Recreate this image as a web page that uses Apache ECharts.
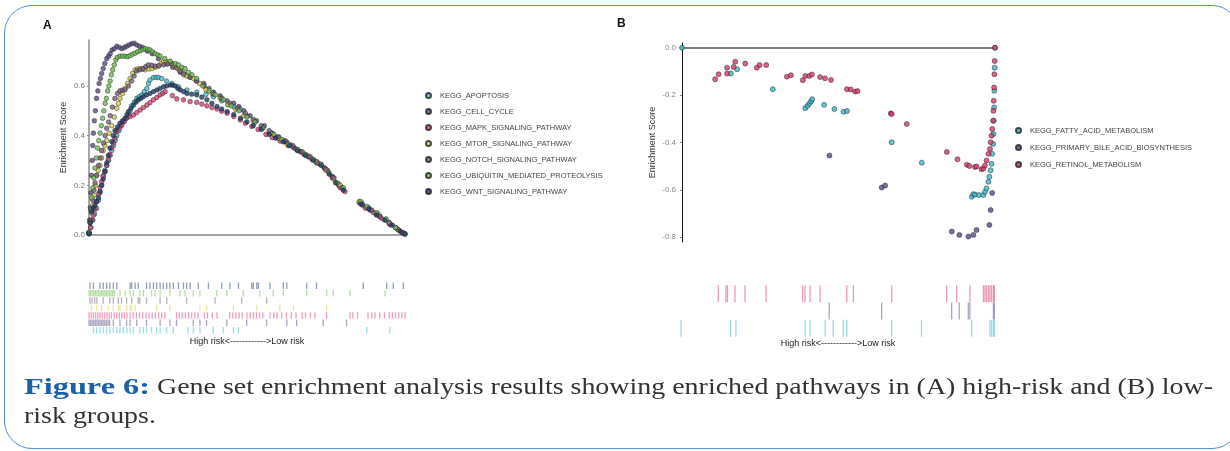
<!DOCTYPE html>
<html>
<head>
<meta charset="utf-8">
<script src="https://cdn.jsdelivr.net/npm/echarts@6/dist/echarts.min.js"></script>
<style>
  html, body { margin: 0; padding: 0; background: #fff; }
  #wrap { position: relative; width: 1230px; height: 451px; overflow: hidden; }
  #chart { position: absolute; left: 0; top: 0; width: 1230px; height: 451px; }
  #frame {
    position: absolute; left: 4px; top: 5px; width: 1236px; height: 444px;
    border: 1.5px solid #4f8fd6; border-radius: 28px; box-sizing: border-box; pointer-events: none;
  }
  .cap {
    position: absolute; white-space: nowrap; transform-origin: 0 0;
    font-family: "Liberation Serif", "DejaVu Serif", serif; font-size: 23px; line-height: 30px; color: #333;
  }
  .cap.lbl { font-weight: bold; color: #1d5fa8; }
</style>
</head>
<body>
<div id="wrap">
  <div id="chart"></div>
  <div id="frame"></div>
  <span class="cap lbl" id="capLbl" style="left:24px; top:372px">Figure 6:</span>
  <span class="cap" id="cap1" style="left:157px; top:372px">Gene set enrichment analysis results showing enriched pathways in (A) high-risk and (B) low-</span>
  <span class="cap" id="cap2" style="left:24px; top:401px">risk groups.</span>
</div>
<script>
// ---- panel A: running enrichment score, [rank %, ES]
const namesA = ['KEGG_APOPTOSIS', 'KEGG_CELL_CYCLE', 'KEGG_MAPK_SIGNALING_PATHWAY', 'KEGG_MTOR_SIGNALING_PATHWAY',
  'KEGG_NOTCH_SIGNALING_PATHWAY', 'KEGG_UBIQUITIN_MEDIATED_PROTEOLYSIS', 'KEGG_WNT_SIGNALING_PATHWAY'];
const colorsA = ['#3cc0cf', '#5b4a85', '#e0407a', '#d6cf45', '#7a5f80', '#6cbf4f', '#203d6b'];

const apoptosis = [[0,0.005],[0.6,0.03],[1.2,0.06],[1.8,0.085],[2.4,0.107],[3,0.14],[3.5,0.17],[4,0.2],[4.5,0.24],[5,0.26],[5.6,0.28],[6.2,0.3],[6.7,0.32],[7.2,0.34],[7.8,0.36],[8.3,0.38],[8.8,0.4],[9.5,0.42],[10.2,0.44],[10.9,0.456],[11.7,0.47],[12.5,0.483],[13,0.5],[13.5,0.52],[14.3,0.535],[15.1,0.55],[15.9,0.557],[16.7,0.564],[17.5,0.577],[18.3,0.59],[18.8,0.61],[19.3,0.624],[20.4,0.634],[21.2,0.635],[22,0.634],[23,0.63],[24.5,0.62],[26.2,0.61],[28.3,0.597],[31,0.584],[34.1,0.575],[37,0.566],[39.4,0.557],[42,0.54],[44,0.525],[45.8,0.517],[47.9,0.506],
  [50,0.48],[52.5,0.455],[55,0.435],[57.5,0.41],[60,0.39],[62,0.375],[64.5,0.355],[67,0.335],[69.5,0.315],[72,0.29],[74.5,0.27],[77,0.235],[79,0.205],[86,0.13],[88.5,0.11],[91,0.085],[94,0.06],[97,0.03],[99.5,0.008]];
const cellCycle = [[0,0.01],[0.2,0.06],[0.4,0.11],[0.6,0.17],[0.8,0.24],[1,0.3],[1.2,0.36],[1.4,0.41],[1.7,0.46],[2,0.5],[2.4,0.55],[2.8,0.58],[3.2,0.61],[3.6,0.63],[4,0.65],[4.5,0.67],[5,0.69],[5.6,0.71],[6.2,0.72],[6.7,0.73],[7.3,0.745],[8,0.75],[8.8,0.76],[9.6,0.755],[10.4,0.75],[11.2,0.755],[11.9,0.76],[12.7,0.765],[13.5,0.77],[14.3,0.772],[15.1,0.765],[16,0.76],[17,0.755],[18.5,0.74],[20,0.73],[22,0.71],[24.5,0.69],[26.5,0.675],[28.9,0.655],[30.5,0.645],[32,0.635],[34,0.62],[36.3,0.61],[38,0.59],[39.4,0.575],[41.5,0.56],[43.7,0.54],[45.8,0.53],[47.4,0.517],
  [49,0.5],[51,0.48],[53,0.46],[55.5,0.44],[58,0.41],[60,0.395],[62.5,0.375],[65,0.35],[67,0.335],[69.5,0.315],[72,0.295],[74.5,0.27],[77,0.235],[79,0.2],[86.5,0.12],[89,0.1],[92,0.075],[95.5,0.04],[99,0.01]];
const mapk = [[0,0.005],[0.5,0.03],[1,0.06],[1.4,0.08],[1.9,0.105],[2.4,0.134],[3,0.165],[3.5,0.19],[4,0.215],[4.5,0.235],[5,0.255],[5.6,0.28],[6.1,0.305],[6.6,0.325],[7.2,0.35],[7.7,0.37],[8.2,0.39],[8.8,0.416],[9.6,0.43],[10.4,0.443],[11.2,0.457],[11.9,0.47],[13,0.476],[14.1,0.483],[15.1,0.493],[16.2,0.503],[17.2,0.513],[18.3,0.523],[19.3,0.533],[20.4,0.544],[21.5,0.554],[22.5,0.564],[23.3,0.57],[24.1,0.577],[26.4,0.561],[27.8,0.548],[29.9,0.544],[32,0.537],[34.1,0.534],[35.7,0.527],[37.3,0.52],[38.9,0.513],[40.5,0.507],[42,0.498],[43.7,0.49],[45.8,0.477],[47.9,0.463],
  [49.5,0.45],[51.5,0.437],[53.5,0.425],[56,0.405],[58,0.392],[60.5,0.378],[63,0.36],[65.5,0.345],[68,0.325],[70.5,0.305],[73,0.285],[75.5,0.26],[77,0.23],[79.5,0.19],[81,0.175],[85.5,0.13],[87.5,0.108],[90,0.09],[92.5,0.068],[95,0.045],[97.5,0.025],[99.5,0.008]];
const mtor = [[0,0.01],[0.4,0.05],[0.8,0.09],[1.2,0.12],[1.6,0.16],[2,0.2],[2.4,0.24],[2.9,0.26],[3.5,0.28],[4,0.31],[4.5,0.34],[5,0.36],[5.6,0.38],[6.4,0.41],[7.2,0.44],[8,0.475],[8.8,0.51],[9.3,0.53],[9.8,0.55],[10.6,0.57],[11.4,0.59],[12.2,0.61],[13,0.63],[13.8,0.65],[14.6,0.665],[15.4,0.668],[16.2,0.67],[17,0.668],[17.8,0.665],[19,0.668],[19.9,0.67],[21,0.675],[22,0.68],[22.8,0.69],[23.6,0.7],[24.4,0.698],[25.2,0.695],[26,0.69],[26.7,0.685],[28,0.67],[28.9,0.66],[30,0.645],[31,0.64],[33.1,0.63],
  [35,0.61],[37,0.585],[39,0.57],[41.5,0.55],[44,0.525],[46.5,0.505],[49,0.48],[52,0.46],[55,0.43],[57.5,0.41],[60,0.39],[63,0.365],[66,0.34],[69,0.32],[72,0.295],[75,0.26],[77.5,0.225],[79.5,0.2],[85.5,0.135],[88,0.11],[91.5,0.085],[95,0.05],[98,0.02]];
const notch = [[0,0.01],[0.4,0.06],[0.8,0.1],[1.2,0.14],[1.6,0.18],[1.9,0.21],[2.4,0.24],[3,0.28],[3.5,0.31],[4,0.34],[4.6,0.37],[5.1,0.4],[5.6,0.43],[6.2,0.455],[6.7,0.48],[7.4,0.515],[8.2,0.55],[9,0.57],[9.8,0.58],[10.6,0.583],[11.4,0.585],[12.5,0.6],[13.5,0.62],[14.3,0.64],[15.1,0.66],[16.1,0.665],[17.2,0.67],[18,0.678],[18.8,0.685],[19.9,0.683],[20.9,0.68],[22.2,0.682],[23.6,0.685],[24.9,0.688],[26.2,0.69],[27.5,0.675],[28.7,0.66],[29.9,0.65],[32,0.635],[34.1,0.62],[36.5,0.6],[39.4,0.567],[42,0.55],[44.7,0.53],
  [47,0.51],[49.5,0.49],[52,0.465],[54.5,0.44],[57,0.42],[59.5,0.395],[62,0.38],[64.5,0.36],[67.5,0.335],[70,0.315],[72.5,0.29],[75,0.265],[77.5,0.23],[80,0.19],[86.5,0.125],[89.5,0.1],[92,0.075],[95,0.05],[98,0.02],[100,0.005]];
const ubiquitin = [[0,0.01],[0.3,0.05],[0.6,0.1],[0.9,0.15],[1.2,0.19],[1.5,0.23],[1.9,0.27],[2.3,0.31],[2.7,0.35],[3.1,0.38],[3.5,0.41],[3.9,0.44],[4.3,0.47],[4.7,0.5],[5.1,0.53],[5.5,0.55],[5.9,0.58],[6.3,0.6],[6.7,0.62],[7.1,0.645],[7.5,0.665],[8,0.685],[8.5,0.705],[9,0.715],[9.8,0.72],[10.6,0.72],[11.4,0.72],[12.2,0.718],[13,0.722],[13.8,0.728],[14.6,0.732],[15.4,0.738],[16.2,0.742],[17,0.746],[17.8,0.75],[18.6,0.748],[19.3,0.745],[20.1,0.738],[20.9,0.73],[21.7,0.725],[22.5,0.72],[24,0.71],[25.7,0.7],[27.3,0.69],[28.3,0.685],[29.4,0.675],[30.4,0.67],[31.5,0.655],[32.6,0.645],[34.1,0.63],
  [36,0.6],[38,0.58],[40,0.565],[42.5,0.545],[45,0.52],[47.5,0.5],[50,0.475],[52.5,0.455],[55,0.43],[58.5,0.405],[61,0.385],[63.5,0.365],[66,0.345],[68.5,0.325],[71,0.305],[73.5,0.285],[76,0.25],[78.5,0.21],[80.5,0.19],[86,0.135],[88,0.115],[91,0.09],[94,0.065],[97,0.03],[100,0.005]];
const wnt = [[0,0.005],[0.4,0.05],[0.85,0.094],[1.4,0.11],[1.9,0.12],[2.4,0.135],[3,0.15],[3.5,0.175],[4,0.2],[4.5,0.225],[5.1,0.255],[5.6,0.29],[6.1,0.32],[6.6,0.35],[7.2,0.376],[7.7,0.4],[8.2,0.42],[9,0.435],[9.8,0.45],[10.6,0.46],[11.4,0.47],[12,0.485],[12.5,0.497],[13.3,0.51],[14.1,0.523],[14.9,0.535],[15.6,0.544],[16.4,0.55],[17.2,0.557],[18.2,0.564],[19.3,0.57],[20.4,0.577],[21.5,0.584],[22.5,0.59],[23.6,0.597],[24.6,0.6],[25.7,0.604],[26.5,0.603],[27.3,0.6],[28.1,0.59],[28.9,0.584],[30,0.577],[31,0.57],[32.5,0.567],[34.1,0.564],[35.7,0.555],[37.3,0.544],[38.9,0.53],[40.5,0.517],[42,0.507],[43.7,0.497],[45.8,0.485],[47.9,0.47],
  [50,0.455],[52,0.44],[54.5,0.425],[57,0.405],[59,0.39],[61.5,0.375],[63.5,0.36],[66,0.34],[68.5,0.32],[71,0.3],[73.5,0.28],[76,0.245],[78,0.21],[80.5,0.18],[86,0.125],[88.5,0.105],[91,0.08],[93.5,0.06],[96,0.04],[98.5,0.015],[100,0.003]];
const seriesA = [apoptosis, cellCycle, mapk, mtor, notch, ubiquitin, wnt];

// gene hit positions (rank %) for the rug under A
const hitsApoptosis = [1.4,2.4,3.5,4.5,5.6,6.6,7.7,8.8,9.8,10.9,12,13,14,16.1,17.2,18.2,19.8,21.4,22.5,24.6,26.7,31.4,33,35.1,39.3,42.5,45.7,47.3,87.9,95.2];
const hitsCellCycle = [0,0.5,1,1.5,2,2.5,3,3.5,4,4.5,5,5.5,6,6.5,7.7,9.8,11.9,13,15.1,18.2,22.5,25.6,27.7,33,35.1,37.2,43.6,49.9,56.2,62.6,65.7,74.1,81.5];
const hitsMapk = [0,0.7,1.4,2.1,2.8,3.5,4.2,5,5.7,6.4,7.1,8,8.8,9.6,10.4,11.2,12,13,14,15,16,17,18,19,20,21,22,23,24,27.7,28.6,29.5,30.5,31.5,32.5,33.5,34.5,36.5,37.5,39,40.5,44.5,45.5,46.5,47.5,48.5,50,51,52,53,54,55,57.3,58.5,59.5,61,62.5,64,65.5,67.5,68.5,70,71.5,75.2,82.6,83.5,85,88.3,89.5,90.5,92,93.5,95,96,97,98,99,100];
const hitsMtor = [0.8,2.4,4,6.1,7.7,9.3,9.8,11.9,13,13.5,14.6,21.4,25.6,35.1,37.2,45.7,53.1,60.4,64.7,75.2];
const hitsNotch = [0.3,1,1.8,2.5,4.5,6.6,7.7,9.3,10.3,11.9,13.5,15.6,16.1,18.2,22.5,24.6,30.9,39.9,48.3,56.2];
const hitsUbiquitin = [0,0.5,1,1.5,2,2.5,3,3.5,4,4.5,5,5.5,6,6.5,7,7.5,8,9.8,11.4,13,14,16.1,17.2,19.8,20.9,22.5,25.6,28.8,30.4,33,35.1,40.4,43.6,48.8,54.1,58.3,61.5,68.9,75.2,77.3,82.6,93.7];
const hitsWnt = [0.3,1.4,3.5,4.5,5.6,6.6,7.7,8.8,13,13.5,14.6,15.6,18.2,19.3,20.4,21.4,22.5,23.5,24.6,25.6,26.7,28.3,29.9,30.9,32,34.6,37.8,42,44.6,47.3,51.5,52,53.1,53.6,57.3,61.5,62.6,68.9,72,86.8,94.2,96.3,99.5];
const hitsA = [hitsApoptosis, hitsCellCycle, hitsMapk, hitsMtor, hitsNotch, hitsUbiquitin, hitsWnt];

// ---- panel B
const namesB = ['KEGG_FATTY_ACID_METABOLISM', 'KEGG_PRIMARY_BILE_ACID_BIOSYNTHESIS', 'KEGG_RETINOL_METABOLISM'];
const colorsB = ['#3ab8c8', '#5a4a8a', '#d43a6c'];
const fattyAcid = [[0,0],[15.6,-0.109],[17.6,-0.091],[29,-0.175],[39.4,-0.255],[40.1,-0.245],[40.7,-0.235],[41.2,-0.227],[41.6,-0.217],[45.4,-0.241],[48.7,-0.259],[51.6,-0.27],[52.7,-0.267],[67,-0.399],[76.6,-0.485],[92.6,-0.629],[93.1,-0.618],[93.6,-0.62],[94.9,-0.622],[96.3,-0.622],[96.8,-0.608],[97.3,-0.594],[97.9,-0.566],[98.2,-0.545],[98.6,-0.517],[98.9,-0.49],[99.1,-0.448],[99.4,-0.406],[99.5,-0.364],[99.6,-0.308],[99.7,-0.252],[99.8,-0.182],[99.9,-0.084],[100,0]];
const bileAcid = [[47.1,-0.455],[63.8,-0.59],[64.9,-0.582],[86.2,-0.776],[88.6,-0.79],[91.5,-0.797],[93.1,-0.79],[94.1,-0.769],[98.2,-0.748],[98.6,-0.685],[99.1,-0.613]];
const retinol = [[10.6,-0.133],[11.7,-0.112],[14.4,-0.109],[14.4,-0.084],[16.5,-0.081],[17,-0.059],[20.2,-0.067],[23.9,-0.084],[24.8,-0.073],[26.9,-0.073],[33.5,-0.122],[34.8,-0.116],[38.6,-0.137],[39.4,-0.119],[40.7,-0.119],[41.5,-0.113],[44.1,-0.124],[45.7,-0.129],[47.6,-0.136],[52.7,-0.175],[53.9,-0.176],[55.3,-0.185],[56.1,-0.183],[66.7,-0.277],[67,-0.28],[71.8,-0.322],[84.6,-0.44],[88,-0.471],[91,-0.494],[91.8,-0.499],[93.6,-0.503],[94.1,-0.501],[95.7,-0.513],[96.3,-0.51],[96.8,-0.497],[97.3,-0.476],[97.9,-0.448],[98.4,-0.427],[98.6,-0.399],[98.9,-0.371],[99.1,-0.343],[99.4,-0.308],[99.5,-0.266],[99.6,-0.224],[99.7,-0.168],[99.8,-0.112],[99.9,-0.056],[100,0]];
const seriesB = [fattyAcid, bileAcid, retinol];

const hitsFatty = [0,15.8,17.5,39.5,41.1,45.9,48.5,51.7,52.8,67.1,76.6,92.6,98.4,98.9,99.5,99.8];
const hitsBile = [47.2,63.9,86.2,88.6,91.5,92,99.5,99.8];
const hitsRetinol = [11.9,14.3,14.8,17.2,20.4,27.1,38.7,39.5,41.1,44.3,52.8,54.9,67.1,84.6,87.8,92,96.3,96.8,97.3,97.9,98.4,98.9,99.5,99.8];
const hitsB = [hitsFatty, hitsBile, hitsRetinol];

const ticksA = [0, 0.2, 0.4, 0.6];
const ticksB = [0, -0.2, -0.4, -0.6, -0.8];
const rugLabel = 'High risk<------------>Low risk';

// stretch the caption pieces to the widths they take in the figure
function fitWidth(id, w) {
    var el = document.getElementById(id);
    el.style.transform = 'scaleX(' + (w / el.getBoundingClientRect().width) + ')';
}
var capScale = 1056 / document.getElementById('cap1').getBoundingClientRect().width;
fitWidth('capLbl', 126);
fitWidth('cap1', 1056);
document.getElementById('cap2').style.transform = 'scaleX(' + capScale + ')';

var myChart = echarts.init(document.getElementById('chart'));
var font = 'Liberation Sans, Arial, sans-serif';

var series = [];
seriesA.forEach(function (d, i) {
    series.push({
        name: namesA[i], type: 'scatter', xAxisIndex: 0, yAxisIndex: 0,
        data: d, symbolSize: 4.6, color: colorsA[i],
        itemStyle: { borderColor: '#222', borderWidth: 0.6 }
    });
});
hitsA.forEach(function (h, i) {
    series.push({
        type: 'scatter', xAxisIndex: 1, yAxisIndex: 1, silent: true,
        data: h.map(function (x) { return [x, i]; }),
        symbol: 'rect', symbolSize: [1.3, 6.5],
        itemStyle: { color: colorsA[i], opacity: 0.5 }
    });
});
seriesB.forEach(function (d, i) {
    series.push({
        name: namesB[i], type: 'scatter', xAxisIndex: 2, yAxisIndex: 2,
        data: d, symbolSize: 5, color: colorsB[i],
        itemStyle: { borderColor: '#222', borderWidth: 0.6 }
    });
});
hitsB.forEach(function (h, i) {
    series.push({
        type: 'scatter', xAxisIndex: 3, yAxisIndex: 3, silent: true,
        data: h.map(function (x) { return [x, i]; }),
        symbol: 'rect', symbolSize: [1.3, 17],
        itemStyle: { color: colorsB[i], opacity: 0.5 }
    });
});

var rugX = function (grid, gap) {
    return {
        type: 'value', gridIndex: grid, min: 0, max: 100,
        axisLine: { lineStyle: { color: '#111', width: 1.5 } },
        axisTick: { show: false }, axisLabel: { show: false }, splitLine: { show: false },
        name: rugLabel, nameLocation: 'middle', nameGap: gap,
        nameTextStyle: { fontSize: 9, color: '#222', fontFamily: font }
    };
};

var option = {
    animation: false,
    textStyle: { fontFamily: font },
    grid: [
        { left: 89, top: 40, width: 316, height: 195 },
        { left: 89, top: 282, width: 316, height: 52 },
        { left: 682, top: 43, width: 313, height: 199 },
        { left: 681, top: 285, width: 314, height: 52 }
    ],
    xAxis: [
        { type: 'value', gridIndex: 0, min: 0, max: 100,
          axisLine: { lineStyle: { color: '#8a8a8a', width: 1.5 } },
          axisTick: { show: false }, axisLabel: { show: false }, splitLine: { show: false } },
        rugX(1, 3),
        { type: 'value', gridIndex: 2, min: 0, max: 100,
          axisLine: { onZero: true, lineStyle: { color: '#555', width: 1.5 } },
          axisTick: { show: false }, axisLabel: { show: false }, splitLine: { show: false } },
        rugX(3, 2)
    ],
    yAxis: [
        { type: 'value', gridIndex: 0, min: 0, max: 0.785,
          axisLine: { show: true, lineStyle: { color: '#8a8a8a', width: 1.5 } },
          axisTick: { show: true, length: 2, customValues: ticksA, lineStyle: { color: '#8a8a8a' } },
          axisLabel: { customValues: ticksA, fontSize: 8, color: '#777', margin: 4,
                       formatter: function (v) { return v.toFixed(1); } },
          splitLine: { show: false },
          name: 'Enrichment Score', nameLocation: 'middle', nameGap: 21,
          nameTextStyle: { fontSize: 9, color: '#333' } },
        { type: 'category', gridIndex: 1, data: namesA, show: false },
        { type: 'value', gridIndex: 2, min: -0.82, max: 0.02,
          axisLine: { show: true, onZero: false, lineStyle: { color: '#111', width: 1 } },
          axisTick: { show: true, length: 2, customValues: ticksB, lineStyle: { color: '#888' } },
          axisLabel: { customValues: ticksB, fontSize: 8, color: '#888', margin: 6,
                       formatter: function (v) { return v.toFixed(1); } },
          splitLine: { show: false },
          name: 'Enrichment Score', nameLocation: 'middle', nameGap: 25,
          nameTextStyle: { fontSize: 9, color: '#333' } },
        { type: 'category', gridIndex: 3, data: namesB, show: false }
    ],
    legend: [
        { data: namesA, orient: 'vertical', left: 420, top: 86, icon: 'circle',
          itemWidth: 5, itemHeight: 5, itemGap: 7,
          textStyle: { fontSize: 7.5, color: '#444', lineHeight: 9, padding: [0, 0, 0, 4] } },
        { data: namesB, orient: 'vertical', left: 1010, top: 121, icon: 'circle',
          itemWidth: 5, itemHeight: 5, itemGap: 8,
          textStyle: { fontSize: 7.5, color: '#444', lineHeight: 9, padding: [0, 0, 0, 4] } }
    ],
    graphic: [
        { type: 'text', left: 43, top: 20, style: { text: 'A', fontSize: 12, fontWeight: 'bold', fill: '#111' } },
        { type: 'text', left: 617, top: 18, style: { text: 'B', fontSize: 12, fontWeight: 'bold', fill: '#111' } }
    ],
    series: series
};
myChart.setOption(option);
window.addEventListener('resize', () => {
    myChart.resize()
})
</script>
</body>
</html>
